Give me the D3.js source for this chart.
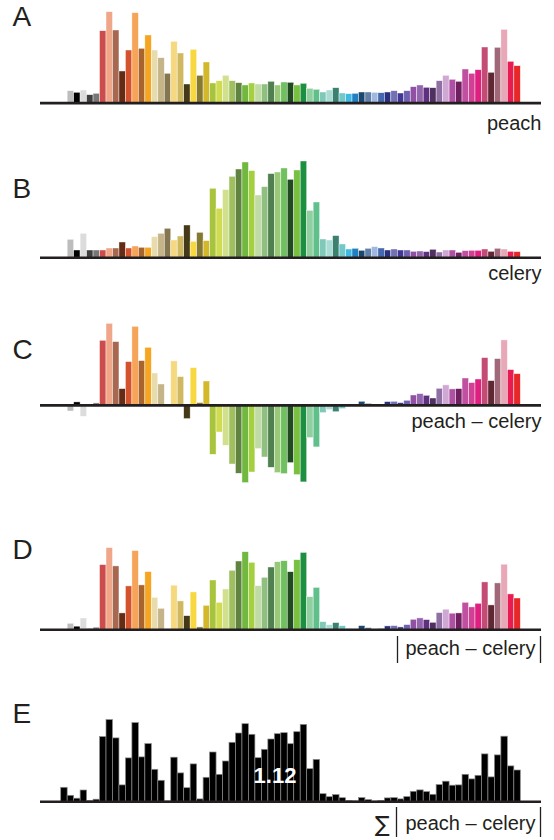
<!DOCTYPE html>
<html lang="en">
<meta charset="utf-8">
<title>peach vs celery</title>
<style>
    body { margin: 0; background: #fff; }
    svg  { display: block; }
    text { font-family: "Liberation Sans", Arial, Helvetica, sans-serif; }
</style>
<body>
<svg id="canvas"></svg>

<script src="https://cdnjs.cloudflare.com/ajax/libs/d3/7.8.5/d3.min.js"></script>
<script>

    ////////////////////// Data ///////////////////////
    // one colour swatch per bin (the first one is white)
    var swatch_colors = [
        "#ffffff", "#bdbdbd", "#000000", "#dcdcdc", "#404040", "#777777",
        "#cc4c4c", "#f0a688", "#a86850", "#642c14", "#d4522c", "#f5a45a",
        "#a8642c", "#f5a520", "#e8dcac", "#c4b488", "#857650", "#f5d880",
        "#d0b860", "#443a18", "#f8d840", "#857830", "#d4b82c", "#a8c43c",
        "#d0dc50", "#d0e08c", "#a0c060", "#608440", "#70b840", "#a4d040",
        "#c0dca4", "#90c080", "#508050", "#98c878", "#70c060", "#204a20",
        "#78c040", "#1c9040", "#90d0a0", "#60c08c", "#80c8b8", "#a8dcd4",
        "#3c8070", "#70c8c8", "#40b8e4", "#2080c0", "#1c4870", "#6080a8",
        "#a0b8e0", "#4468b0", "#283080", "#7470b4", "#403894", "#7060b0",
        "#9050a4", "#9464ac", "#603080", "#503060", "#9070a4", "#d0a8d4",
        "#b050a4", "#702060", "#c050a0", "#d04094", "#e02080", "#c44c74",
        "#602834", "#a06878", "#e8a8b8", "#e81c50", "#e82828"
    ];
    var peach_values = [
        8, 12, 10.4, 12.7, 8, 9.4, 72, 91, 72.7, 31.7, 52.7,
        90, 54.4, 67.7, 52.7, 45, 29.4, 61.4, 49.7, 18.7, 53.4,
        27.4, 40.7, 19.7, 22, 27.4, 22, 20, 17.7, 19.7, 18.7,
        18.7, 21.4, 17.7, 20.7, 20.4, 17.7, 19.4, 14.4, 13.4, 10.7,
        12.7, 15, 9.7, 9, 9.4, 10.7, 10.7, 10.4, 10, 10.7,
        12, 9.7, 12, 16, 17.7, 15.4, 15, 22, 27.4, 23.4,
        21.4, 33.7, 29.4, 33, 55.7, 30.4, 55.4, 73.4, 41.4, 37
    ];
    var celery_values = [
        22, 18, 7.3, 24, 7.3, 7.3, 7.3, 9.3, 9.3, 15.3, 9.3,
        11.3, 10, 10, 20.7, 24, 29, 17.3, 21.3, 32.3, 16,
        25, 16.7, 69, 49, 67.7, 81, 88.3, 95.3, 86.7, 62.3,
        70.7, 83.7, 85.3, 89.3, 78, 87.3, 96.3, 47, 55.3, 18.3,
        17.3, 21.7, 13.3, 8.3, 9, 7, 9, 10.7, 9.3, 7.3,
        8.3, 7.3, 7.3, 6, 6.3, 5.7, 8, 5.3, 7.3, 7.3,
        5, 6.7, 7, 7, 8.3, 6, 9, 8.3, 6, 5.7
    ];
    var panel_letters = ["A", "B", "C", "D", "E"];
    var panel_labels  = ["peach", "celery", "peach \u2013 celery",
                         "peach \u2013 celery", "peach \u2013 celery"];
    var total_label   = "1.12";
    ///////////////////////////////////////////////////

    ///////// Position and Dimension Variables ////////
    var dimensions  = [554, 840];
    var axis_x0     = 40;
    var axis_x1     = 541;
    var bars_x0     = 60.7;
    var bars_x1     = 520.3;
    var baselines   = [102.7, 257.3, 405, 629.3, 801.3];
    var letter_x    = 12.5;
    var letter_y    = [26, 198, 359, 559, 723];
    var label_x     = 541.5;
    var label_y     = [130, 279.5, 428.3, 655, 830];
    ///////////////////////////////////////////////////

    ///////////////// Style Variables /////////////////
    var ink_color     = '#231f20';
    var axis_color    = '#231f20';
    var axis_width    = 2.6;
    var letter_size   = 28;
    var label_size    = 20;
    ///////////////////////////////////////////////////

    var canvas = d3.select("#canvas")
        .attr('width',  dimensions[0])
        .attr('height', dimensions[1])
        .style('background-color', '#fff');

    var diff_values = peach_values.map(function (p, i) { return p - celery_values[i]; });
    var abs_values  = diff_values.map(Math.abs);

    var x = d3.scaleBand()
        .domain(d3.range(swatch_colors.length))
        .range([bars_x0, bars_x1])
        .paddingInner(0);

    // same units in every panel, 1 unit = 1px
    var h = d3.scaleLinear().domain([0, 100]).range([0, 100]);

    var panels = [
        { values: peach_values,  black: false },
        { values: celery_values, black: false },
        { values: diff_values,   black: false },
        { values: abs_values,    black: false },
        { values: abs_values,    black: true  }
    ];

    //////////////////// bar panels ///////////////////
    panels.forEach(function (p, k) {
        var base = baselines[k];
        var g = canvas.append('g');

        g.selectAll('rect')
            .data(p.values)
            .join('rect')
            .attr('x',      function (d, i) { return x(i); })
            .attr('width',  x.bandwidth())
            .attr('y',      function (d) { return d >= 0 ? base - h(d) : base; })
            .attr('height', function (d) { return h(Math.abs(d)); })
            .attr('fill',   function (d, i) { return p.black ? '#000' : swatch_colors[i]; })
            .attr('stroke', p.black ? '#8c8c8c' : '#ffffff')
            .attr('stroke-width', p.black ? 0.7 : 0.6)
            .attr('stroke-opacity', p.black ? 1 : 0.7);

        g.append('line')
            .attr('x1', axis_x0).attr('x2', axis_x1)
            .attr('y1', base + 0.4).attr('y2', base + 0.4)
            .attr('stroke', axis_color)
            .attr('stroke-width', axis_width);

        canvas.append('text')
            .attr('x', letter_x)
            .attr('y', letter_y[k])
            .attr('fill', ink_color)
            .attr('font-size', letter_size)
            .text(panel_letters[k]);
    });
    ///////////////////////////////////////////////////

    ////////////////////// labels /////////////////////
    function bar_pair(xl, xr, y0, y1) {
        [xl, xr].forEach(function (xx) {
            canvas.append('line')
                .attr('x1', xx).attr('x2', xx)
                .attr('y1', y0).attr('y2', y1)
                .attr('stroke', ink_color)
                .attr('stroke-width', 1.3);
        });
    }

    [0, 1, 2].forEach(function (k) {
        canvas.append('text')
            .attr('x', label_x)
            .attr('y', label_y[k])
            .attr('text-anchor', 'end')
            .attr('fill', ink_color)
            .attr('font-size', label_size)
            .text(panel_labels[k]);
    });

    // |peach - celery|
    canvas.append('text')
        .attr('x', 535.5)
        .attr('y', label_y[3])
        .attr('text-anchor', 'end')
        .attr('fill', ink_color)
        .attr('font-size', label_size)
        .text(panel_labels[3]);
    bar_pair(397.5, 540.5, 636, 663);

    // sum |peach - celery|
    canvas.append('text')
        .attr('x', 535.5)
        .attr('y', label_y[4])
        .attr('text-anchor', 'end')
        .attr('fill', ink_color)
        .attr('font-size', label_size)
        .text(panel_labels[4]);
    canvas.append('text')
        .attr('x', 375)
        .attr('y', 832)
        .attr('fill', ink_color)
        .attr('font-size', 22)
        .style('font-family', '"DejaVu Sans", sans-serif')
        .text("\u2211");
    bar_pair(396.5, 540.5, 807, 837);

    canvas.append('text')
        .attr('x', 275)
        .attr('y', 783.3)
        .attr('text-anchor', 'middle')
        .attr('fill', '#fff')
        .attr('font-size', 22)
        .attr('font-weight', 'bold')
        .text(total_label);
    ///////////////////////////////////////////////////

</script>
</body>
</html>
